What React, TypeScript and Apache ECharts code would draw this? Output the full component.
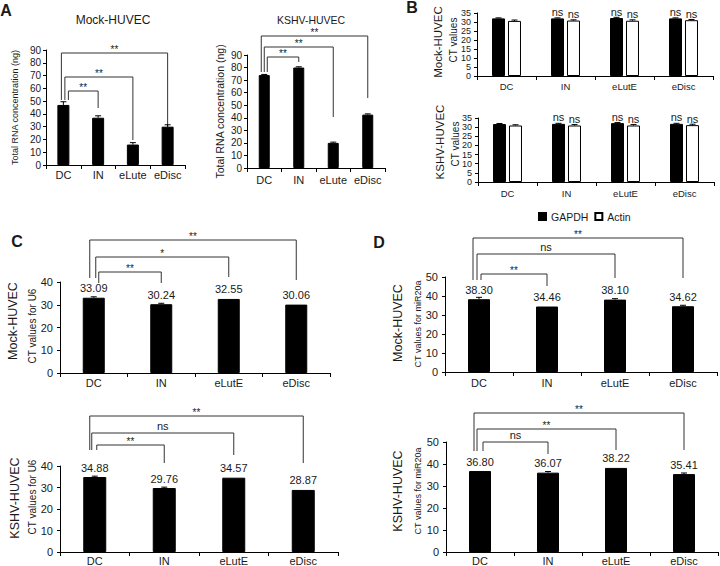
import React, { useEffect, useRef } from "react";
import * as echarts from "echarts";

// ---------------- data ----------------
const catsRna = ["DC", "IN", "eLute", "eDisc"];
const catsCt = ["DC", "IN", "eLutE", "eDisc"];

const rnaMock = [47, 37, 16, 30];
const rnaMockErr = [2.5, 1.5, 1.5, 1.5];
const rnaKshv = [74, 80, 20, 42.5];
const rnaKshvErr = [0.5, 0.6, 0.6, 0.6];

const gapdhMock = [32.0, 32.0, 32.2, 32.0];
const gapdhMockErr = [0.3, 0.3, 0.4, 0.3];
const actinMock = [30.6, 30.8, 30.7, 31.0];
const actinMockErr = [0.5, 0.4, 0.5, 0.4];
const gapdhKshv = [31.7, 31.8, 32.2, 31.8];
const gapdhKshvErr = [0.3, 0.3, 0.3, 0.3];
const actinKshv = [30.9, 30.9, 30.9, 31.1];
const actinKshvErr = [0.4, 0.5, 0.5, 0.5];
const nsBLabels = ["", "ns", "ns", "ns"];

const u6Mock = [33.09, 30.24, 32.55, 30.06];
const u6MockErr = [0.4, 0.4, 0, 0];
const u6Kshv = [34.88, 29.76, 34.57, 28.87];
const u6KshvErr = [0.4, 0.4, 0, 0];
const mirMock = [38.3, 34.46, 38.1, 34.62];
const mirMockErr = [1.0, 0, 0.5, 0.5];
const mirKshv = [36.8, 36.07, 38.22, 35.41];
const mirKshvErr = [0, 0.5, 0, 0.5];

// significance vs DC: [target category index, label]
const sigRnaMock: [number, string][] = [[1, "**"], [2, "**"], [3, "**"]];
const sigRnaKshv: [number, string][] = [[1, "**"], [2, "**"], [3, "**"]];
const sigU6Mock: [number, string][] = [[1, "**"], [2, "*"], [3, "**"]];
const sigU6Kshv: [number, string][] = [[1, "**"], [2, "ns"], [3, "**"]];
const sigMirMock: [number, string][] = [[1, "**"], [2, "ns"], [3, "**"]];
const sigMirKshv: [number, string][] = [[1, "ns"], [2, "**"], [3, "**"]];

// ---------------- layout / style ----------------
const FONT = "'Liberation Sans', Arial, Helvetica, sans-serif";
const TXT = "#1a1a1a";

const GRIDS = [
  { left: 46, top: 50, width: 139, height: 115 }, // A mock
  { left: 247, top: 55, width: 138, height: 113 }, // A kshv
  { left: 477, top: 13, width: 236, height: 63 }, // B mock
  { left: 478, top: 118, width: 236, height: 64 }, // B kshv
  { left: 60, top: 282, width: 270, height: 91 }, // C mock
  { left: 60, top: 466, width: 278, height: 87 }, // C kshv
  { left: 445, top: 277, width: 272, height: 95 }, // D mock
  { left: 446, top: 442, width: 272, height: 111 }, // D kshv
];

// per bracket: left-leg x offset from DC centre, top y, left-leg bottom, right-leg bottom
const BRACKET_LAYOUT: Record<number, { dx: number; top: number; lb: number; rb: number }[]> = {
  0: [
    { dx: 5, top: 91, lb: 100, rb: 108 },
    { dx: 1.5, top: 77, lb: 100, rb: 140 },
    { dx: -2, top: 53, lb: 100, rb: 127 },
  ],
  1: [
    { dx: 3, top: 57, lb: 72, rb: 62 },
    { dx: 0, top: 47, lb: 72, rb: 117 },
    { dx: -3, top: 36, lb: 72, rb: 98 },
  ],
  4: [
    { dx: 5, top: 272, lb: 283, rb: 283 },
    { dx: 2, top: 257, lb: 278, rb: 277 },
    { dx: -4, top: 240, lb: 278, rb: 280 },
  ],
  5: [
    { dx: 2, top: 445, lb: 450, rb: 463 },
    { dx: -3, top: 433, lb: 450, rb: 455 },
    { dx: -5, top: 416, lb: 450, rb: 463 },
  ],
  6: [
    { dx: 2, top: 274, lb: 280, rb: 286 },
    { dx: -2, top: 254, lb: 280, rb: 278 },
    { dx: -6, top: 238, lb: 280, rb: 278 },
  ],
  7: [
    { dx: 3, top: 442, lb: 451, rb: 454 },
    { dx: -3, top: 429, lb: 451, rb: 450 },
    { dx: -6, top: 413, lb: 451, rb: 450 },
  ],
};

const SIGS: Record<number, [number, string][]> = {
  0: sigRnaMock,
  1: sigRnaKshv,
  4: sigU6Mock,
  5: sigU6Kshv,
  6: sigMirMock,
  7: sigMirKshv,
};

// rotated two-line axis titles for panels B, C, D: [text, x, y, fontSize]
const SIDE_TITLES: [string, number, number, number][] = [
  ["Mock-HUVEC", 438, 42, 11.5],
  ["CT values", 453, 40, 10],
  ["KSHV-HUVEC", 440, 142, 11.5],
  ["CT values", 455, 144, 10],
  ["Mock-HUVEC", 13, 321, 12.5],
  ["CT values for U6", 32, 326, 10],
  ["KSHV-HUVEC", 15, 498, 12.5],
  ["CT values for U6", 32, 497, 10],
  ["Mock-HUVEC", 398, 323, 12.5],
  ["CT values for miR20a", 418, 324, 9],
  ["KSHV-HUVEC", 398, 491, 12.5],
  ["CT values for miR20a", 418, 491, 9],
];

const AXES: any[] = [
  { cats: catsRna, max: 90, interval: 10, tickFont: 10, catFont: 11, catMargin: 4, yMargin: 5,
    name: "Total RNA concentration (ng)", nameGap: 27, nameFont: 9 },
  { cats: catsRna, max: 90, interval: 10, tickFont: 10, catFont: 11, catMargin: 6, yMargin: 5,
    name: "Total RNA concentration (ng)", nameGap: 22, nameFont: 10.5 },
  { cats: catsCt, max: 35, interval: 5, tickFont: 9, catFont: 9.5, catMargin: 5, yMargin: 6 },
  { cats: catsCt, max: 35, interval: 5, tickFont: 9, catFont: 9.5, catMargin: 6, yMargin: 6 },
  { cats: catsCt, max: 40, interval: 10, tickFont: 11, catFont: 11, catMargin: 4, yMargin: 7 },
  { cats: catsCt, max: 40, interval: 10, tickFont: 11, catFont: 11, catMargin: 3, yMargin: 7 },
  { cats: catsCt, max: 50, interval: 10, tickFont: 11, catFont: 11, catMargin: 5, yMargin: 7 },
  { cats: catsCt, max: 50, interval: 10, tickFont: 11, catFont: 11, catMargin: 3, yMargin: 7 },
];

// ---------------- series helpers ----------------
function errSeries(gi: number, vals: number[], errs: number[], offset: number) {
  return {
    type: "custom",
    xAxisIndex: gi,
    yAxisIndex: gi,
    z: 5,
    silent: true,
    data: vals.map((v, k) => [k, v, errs[k]]).filter((d) => d[2] > 0),
    encode: { x: 0, y: 1 },
    renderItem: (_params: any, api: any) => {
      const c = api.value(0);
      const v = api.value(1);
      const e = api.value(2);
      const p0 = api.coord([c, v]);
      const p1 = api.coord([c, v + e]);
      const x = p0[0] + offset;
      return {
        type: "group",
        children: [
          { type: "line", shape: { x1: x, y1: p0[1], x2: x, y2: p1[1] }, style: { stroke: "#000", lineWidth: 1 } },
          { type: "line", shape: { x1: x - 3, y1: p1[1], x2: x + 3, y2: p1[1] }, style: { stroke: "#000", lineWidth: 1 } },
        ],
      };
    },
  };
}

function barSeries(gi: number, name: string, vals: number[], width: number, label: any, white = false) {
  return {
    type: "bar",
    name,
    xAxisIndex: gi,
    yAxisIndex: gi,
    data: vals,
    barWidth: width,
    barGap: "23%",
    itemStyle: { color: white ? "#fff" : "#000", borderColor: "#000", borderWidth: 1 },
    label,
  };
}

const valueLabel = {
  show: true,
  position: "top",
  distance: 4,
  fontSize: 11,
  color: TXT,
  formatter: (p: any) => Number(p.value).toFixed(2),
};
const nsLabel = {
  show: true,
  position: "top",
  distance: 1,
  fontSize: 11,
  color: TXT,
  formatter: (p: any) => nsBLabels[p.dataIndex],
};

function buildSeries() {
  return [
    barSeries(0, "RNA", rnaMock, 12, { show: false }),
    errSeries(0, rnaMock, rnaMockErr, 0),
    barSeries(1, "RNA", rnaKshv, 11, { show: false }),
    errSeries(1, rnaKshv, rnaKshvErr, 0),
    barSeries(2, "GAPDH", gapdhMock, 13, nsLabel),
    barSeries(2, "Actin", actinMock, 13, nsLabel, true),
    errSeries(2, gapdhMock, gapdhMockErr, -8),
    errSeries(2, actinMock, actinMockErr, 8),
    barSeries(3, "GAPDH", gapdhKshv, 13, nsLabel),
    barSeries(3, "Actin", actinKshv, 13, nsLabel, true),
    errSeries(3, gapdhKshv, gapdhKshvErr, -8),
    errSeries(3, actinKshv, actinKshvErr, 8),
    barSeries(4, "U6", u6Mock, 22, valueLabel),
    errSeries(4, u6Mock, u6MockErr, 0),
    barSeries(5, "U6", u6Kshv, 23, valueLabel),
    errSeries(5, u6Kshv, u6KshvErr, 0),
    barSeries(6, "miR20a", mirMock, 22, valueLabel),
    errSeries(6, mirMock, mirMockErr, 0),
    barSeries(7, "miR20a", mirKshv, 22, valueLabel),
    errSeries(7, mirKshv, mirKshvErr, 0),
  ];
}

function txt(text: string, x: number, y: number, size: number, bold = false, rotation = 0) {
  return {
    type: "text",
    x,
    y,
    rotation,
    silent: true,
    style: {
      text,
      fontSize: size,
      fontWeight: bold ? "bold" : "normal",
      fontFamily: FONT,
      fill: TXT,
      align: "center",
      verticalAlign: "middle",
      textAlign: "center",
      textVerticalAlign: "middle",
    },
  };
}

function staticGraphics() {
  return [
    txt("A", 6, 10, 16, true),
    txt("B", 412, 7, 16, true),
    txt("C", 17, 241, 16, true),
    txt("D", 379, 242, 16, true),
    txt("Mock-HUVEC", 113, 20, 12),
    txt("KSHV-HUVEC", 311, 20, 10.5),
    ...SIDE_TITLES.map(([t, x, y, s]) => txt(t, x, y, s, false, Math.PI / 2)),
  ];
}

function bracketGraphics(chart: any) {
  const out: any[] = [];
  Object.keys(SIGS).forEach((key) => {
    const gi = Number(key);
    const sigs = SIGS[gi];
    const lay = BRACKET_LAYOUT[gi];
    const dcX = chart.convertToPixel({ gridIndex: gi }, [0, 0])[0];
    sigs.forEach(([target, label], k) => {
      const L = lay[k];
      const x1 = dcX + L.dx;
      const x2 = chart.convertToPixel({ gridIndex: gi }, [target, 0])[0];
      out.push({
        type: "polyline",
        silent: true,
        shape: { points: [[x1, L.lb], [x1, L.top], [x2, L.top], [x2, L.rb]] },
        style: { stroke: "#333", lineWidth: 1, fill: null },
      });
      const isStar = label.indexOf("*") >= 0;
      out.push({
        type: "text",
        silent: true,
        x: (x1 + x2) / 2,
        y: isStar ? L.top - 3.5 : L.top - 7,
        style: {
          text: label,
          fontSize: isStar ? 10 : 11,
          fontFamily: FONT,
          fill: "#222",
          align: "center",
          verticalAlign: "middle",
          textAlign: "center",
          textVerticalAlign: "middle",
        },
      });
    });
  });
  return out;
}

export default function App() {
  const ref = useRef<HTMLDivElement>(null);
  useEffect(() => {
    if (!ref.current) return;
    const chart = echarts.init(ref.current, undefined, { renderer: "svg" });
    const option: any = {
      animation: false,
      backgroundColor: "#fff",
      textStyle: { fontFamily: FONT, color: TXT },
      grid: GRIDS.map((g) => ({ ...g, containLabel: false })),
      xAxis: AXES.map((a, i) => ({
        type: "category",
        gridIndex: i,
        data: a.cats,
        axisLine: { show: true, lineStyle: { color: "#000", width: 1 } },
        axisTick: { show: true, length: 4, lineStyle: { color: "#000" } },
        axisLabel: { fontSize: a.catFont, margin: a.catMargin, color: TXT, interval: 0 },
      })),
      yAxis: AXES.map((a, i) => ({
        type: "value",
        gridIndex: i,
        min: 0,
        max: a.max,
        interval: a.interval,
        splitLine: { show: false },
        axisLine: { show: true, lineStyle: { color: "#000", width: 1 } },
        axisTick: { show: true, length: 3, lineStyle: { color: "#000" } },
        axisLabel: { fontSize: a.tickFont, margin: a.yMargin, color: TXT },
        name: a.name || "",
        nameLocation: "middle",
        nameGap: a.nameGap || 0,
        nameTextStyle: { fontFamily: FONT, color: TXT, fontSize: a.nameFont || 10 },
      })),
      legend: {
        data: ["GAPDH", "Actin"],
        left: 533,
        top: 206,
        icon: "rect",
        itemWidth: 7,
        itemHeight: 7,
        itemGap: 6,
        selectedMode: false,
        textStyle: { fontSize: 10.5, color: TXT, fontFamily: FONT },
      },
      series: buildSeries(),
    };
    chart.setOption(option);
    chart.setOption({ graphic: [...staticGraphics(), ...bracketGraphics(chart)] });
    return () => chart.dispose();
  }, []);
  return (
    <div
      ref={ref}
      style={{ position: "absolute", left: 0, top: 0, width: 720, height: 566, background: "#fff" }}
    />
  );
}
